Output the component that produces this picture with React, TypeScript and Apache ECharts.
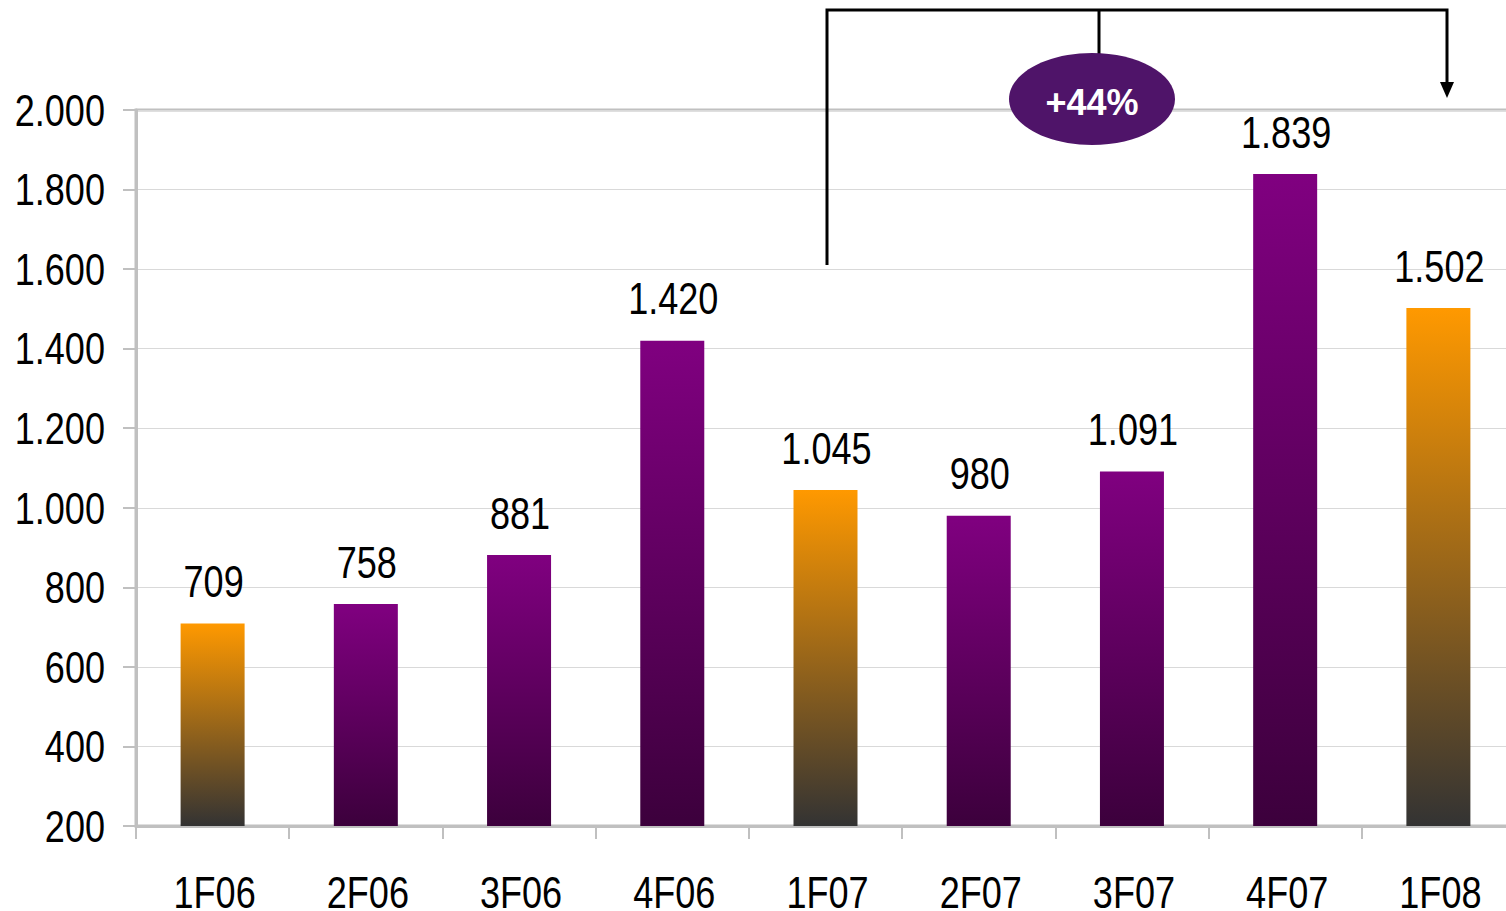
import React, { useEffect, useRef } from "react";
import * as echarts from "echarts";

const categories = ["1F06", "2F06", "3F06", "4F06", "1F07", "2F07", "3F07", "4F07", "1F08"];
const values = [709, 758, 881, 1420, 1045, 980, 1091, 1839, 1502];
const highlighted = [true, false, false, false, true, false, false, false, true];
const yTicks = [200, 400, 600, 800, 1000, 1200, 1400, 1600, 1800, 2000];
const yMin = 200;
const yMax = 2000;
const yInterval = 200;
const growthLabel = "+44%";

const FONT = "'Liberation Sans', Arial, sans-serif";
const NARROW = 0.82;

const fmt = (v: number) => {
  const s = Math.round(v).toString();
  return s.replace(/\B(?=(\d{3})+(?!\d))/g, ".");
};

const orangeGrad = () =>
  new echarts.graphic.LinearGradient(0, 0, 0, 1, [
    { offset: 0, color: "#FF9900" },
    { offset: 1, color: "#333333" },
  ]);
const purpleGrad = () =>
  new echarts.graphic.LinearGradient(0, 0, 0, 1, [
    { offset: 0, color: "#800080" },
    { offset: 1, color: "#3C003C" },
  ]);

const narrowText = (x: number, y: number, text: string, align: string) => ({
  type: "text",
  x,
  y,
  scaleX: NARROW,
  scaleY: 1,
  silent: true,
  style: {
    text,
    fill: "#000000",
    font: `44px ${FONT}`,
    lineHeight: 34,
    align,
    verticalAlign: "middle",
  },
  z: 20,
});

export default function App() {
  const ref = useRef<HTMLDivElement>(null);
  useEffect(() => {
    if (!ref.current) return;
    const chart = echarts.init(ref.current, null, { renderer: "svg" });
    const staticGraphics: any[] = [
      {
        type: "polyline",
        shape: { points: [[827, 265], [827, 10], [1447, 10], [1447, 86]] },
        style: { stroke: "#000", lineWidth: 3, fill: null },
        z: 10,
      },
      {
        type: "line",
        shape: { x1: 1099, y1: 10, x2: 1099, y2: 56 },
        style: { stroke: "#000", lineWidth: 3 },
        z: 10,
      },
      {
        type: "polygon",
        shape: { points: [[1440, 82], [1454, 82], [1447, 98]] },
        style: { fill: "#000" },
        z: 10,
      },
      {
        type: "ellipse",
        shape: { cx: 1092, cy: 99, rx: 83, ry: 46 },
        style: { fill: "#4F1469" },
        z: 11,
      },
      {
        type: "text",
        x: 1092,
        y: 102,
        style: {
          text: growthLabel,
          fill: "#ffffff",
          font: `bold 36px ${FONT}`,
          align: "center",
          verticalAlign: "middle",
        },
        z: 12,
      },
    ];
    chart.setOption({
      animation: false,
      backgroundColor: "#ffffff",
      grid: {
        left: 136,
        right: -9,
        top: 110,
        bottom: 85,
        outerBoundsMode: "none",
        containLabel: false,
        show: true,
        borderColor: "#c0c0c0",
        borderWidth: 3,
        backgroundColor: "transparent",
      },
      xAxis: {
        type: "category",
        data: categories,
        axisLine: { show: true, lineStyle: { color: "#c0c0c0", width: 3 } },
        axisTick: { show: true, length: 13, alignWithLabel: false, lineStyle: { color: "#c0c0c0", width: 2 } },
        axisLabel: { show: false },
      },
      yAxis: {
        type: "value",
        min: yMin,
        max: yMax,
        interval: yInterval,
        axisLine: { show: true, lineStyle: { color: "#c0c0c0", width: 3 } },
        axisTick: { show: true, length: 13, lineStyle: { color: "#c0c0c0", width: 2 } },
        splitLine: { show: true, lineStyle: { color: "#d9d9d9", width: 1 } },
        axisLabel: { show: false },
      },
      series: [
        {
          type: "bar",
          barWidth: 64,
          data: values.map((v, i) => ({
            value: v,
            itemStyle: { color: highlighted[i] ? orangeGrad() : purpleGrad() },
          })),
          label: { show: false },
        },
      ],
      graphic: staticGraphics,
    });

    const axisBottom = chart.convertToPixel({ yAxisIndex: 0 }, yMin) as number;
    const axisLeft = chart.convertToPixel({ xAxisIndex: 0 }, 0) as number;
    const catStep = (chart.convertToPixel({ xAxisIndex: 0 }, 1) as number) - axisLeft;
    const yAxisX = axisLeft - catStep / 2;

    const labelGraphics: any[] = [];
    yTicks.forEach((t) => {
      const py = chart.convertToPixel({ yAxisIndex: 0 }, t) as number;
      labelGraphics.push(narrowText(yAxisX - 31, py + 1, fmt(t), "right"));
    });
    categories.forEach((c, i) => {
      const px = chart.convertToPixel({ xAxisIndex: 0 }, i) as number;
      labelGraphics.push(narrowText(px + 2, axisBottom + 67, c, "center"));
      const top = chart.convertToPixel({ yAxisIndex: 0 }, values[i]) as number;
      labelGraphics.push(narrowText(px + 1, top - 41, fmt(values[i]), "center"));
    });

    chart.setOption({ graphic: [...staticGraphics, ...labelGraphics] });
    return () => chart.dispose();
  }, []);
  return (
    <div
      ref={ref}
      style={{ position: "fixed", left: 0, top: 0, width: 1506, height: 911 }}
    />
  );
}
